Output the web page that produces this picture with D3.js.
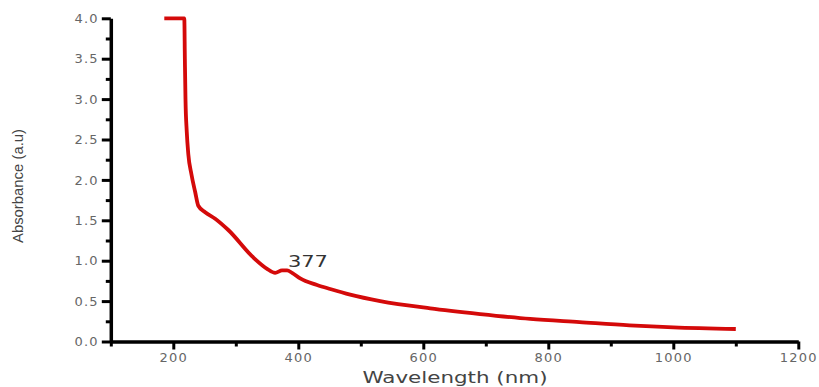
<!DOCTYPE html>
<html>
<head>
<meta charset="utf-8">
<script src="https://cdn.jsdelivr.net/npm/d3@7"></script>
<style>
  body { margin: 0; background: #fff; }
  svg { display: block; }
  .tick text { font-family: "DejaVu Sans", sans-serif; font-size: 13px; fill: #666; letter-spacing: 1.2px; }
</style>
</head>
<body>
<svg id="chart" width="819" height="387"></svg>
<script>
// DATA
var wavelength = [185.6, 217.6, 218.5, 219.5, 221.5, 224, 229, 235, 240, 251, 267, 288, 328, 350, 363, 374, 382, 390, 403, 430, 451, 483, 531, 611, 691, 771, 850, 930, 1000, 1100];
var absorbance = [4.00, 4.00, 3.50, 3.00, 2.60, 2.32, 2.07, 1.85, 1.68, 1.60, 1.52, 1.38, 1.04, 0.90, 0.85, 0.88, 0.88, 0.85, 0.78, 0.70, 0.65, 0.58, 0.50, 0.41, 0.34, 0.28, 0.24, 0.20, 0.175, 0.155];

var xMajor = [200, 400, 600, 800, 1000, 1200];
var xMinor = [100, 300, 500, 700, 900, 1100];
var yMajor = [0, 0.5, 1, 1.5, 2, 2.5, 3, 3.5, 4];
var yMinor = [0.25, 0.75, 1.25, 1.75, 2.25, 2.75, 3.25, 3.75];

var peak = {wl: 377, label: "377"};

var svg = d3.select("#chart");

var x = d3.scaleLinear().domain([100, 1200]).range([110.8, 798.3]);
var y = d3.scaleLinear().domain([0, 4]).range([341.5, 18.3]);

var data = wavelength.map((w, i) => ({w: w, a: absorbance[i]}));

//minor ticks first, then major axes on top
svg.append("g")
  .attr("transform", "translate(0," + y(0) + ")")
  .call(d3.axisBottom(x).tickValues(xMinor).tickSize(5).tickSizeOuter(0).tickFormat(""))
  .call(g => g.select(".domain").remove());

svg.append("g")
  .attr("transform", "translate(" + x(100) + ",0)")
  .call(d3.axisLeft(y).tickValues(yMinor).tickSize(5).tickSizeOuter(0).tickFormat(""))
  .call(g => g.select(".domain").remove());

svg.append("g")
  .attr("transform", "translate(0," + y(0) + ")")
  .call(d3.axisBottom(x).tickValues(xMajor).tickSize(8).tickSizeOuter(0).tickPadding(3).tickFormat(d3.format("d")));

svg.append("g")
  .attr("transform", "translate(" + x(100) + ",0)")
  .call(d3.axisLeft(y).tickValues(yMajor).tickSize(9).tickSizeOuter(0).tickPadding(3).tickFormat(d3.format(".1f")));

svg.selectAll(".domain").attr("stroke", "#000").attr("stroke-width", 3.5);
svg.selectAll(".tick line").attr("stroke", "#000").attr("stroke-width", 3);

//the curve
var line = d3.line()
  .x(d => x(d.w))
  .y(d => y(d.a))
  .curve(d3.curveMonotoneX);

svg.append("path")
  .datum(data)
  .attr("d", line)
  .attr("fill", "none")
  .attr("stroke", "#d40a0a")
  .attr("stroke-width", 3.8)
  .attr("stroke-linejoin", "round");

//peak label
svg.append("text")
  .attr("x", x(peak.wl) + 4)
  .attr("y", 267)
  .attr("font-family", "DejaVu Sans, sans-serif")
  .attr("font-size", 16)
  .attr("fill", "#333")
  .attr("textLength", 40)
  .attr("lengthAdjust", "spacingAndGlyphs")
  .text(peak.label);

//axis titles
svg.append("text")
  .attr("x", 455)
  .attr("y", 383)
  .attr("text-anchor", "middle")
  .attr("font-family", "DejaVu Sans, sans-serif")
  .attr("font-size", 16)
  .attr("fill", "#444")
  .attr("textLength", 185)
  .attr("lengthAdjust", "spacingAndGlyphs")
  .text("Wavelength (nm)");

svg.append("text")
  .attr("transform", "translate(23,186) rotate(-90)")
  .attr("text-anchor", "middle")
  .attr("font-family", "Liberation Sans, Arial, sans-serif")
  .attr("font-size", 15)
  .attr("fill", "#444")
  .attr("textLength", 114)
  .attr("lengthAdjust", "spacingAndGlyphs")
  .text("Absorbance (a.u)");
</script>
</body>
</html>
